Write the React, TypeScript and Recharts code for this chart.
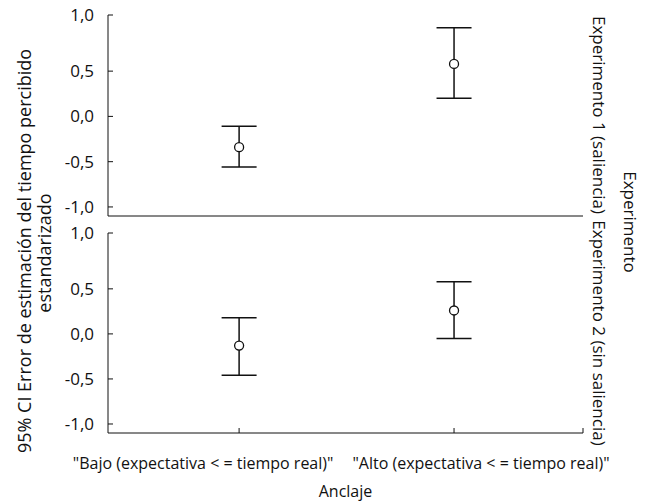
import React from "react";
import { ComposedChart, Scatter, ErrorBar, XAxis, YAxis } from "recharts";

// Anchor categories (x positions 1 and 2 on the numeric axis)
const categories = ['"Bajo (expectativa < = tiempo real)"', '"Alto (expectativa < = tiempo real)"'];

// Experiment 1 (saliencia): mean and 95% CI bounds
const exp1Mean = [-0.34, 0.58];
const exp1Lower = [-0.56, 0.2];
const exp1Upper = [-0.11, 0.98];

// Experiment 2 (sin saliencia)
const exp2Mean = [-0.13, 0.26];
const exp2Lower = [-0.46, -0.05];
const exp2Upper = [0.18, 0.58];

// SPSS puts the top "1,0" tick at the end of the axis
const yTicks = [-1, -0.5, 0, 0.5, 1.12];
const yTickLabels = ["-1,0", "-0,5", "0,0", "0,5", "1,0"];
const xTicks = [1, 2, 2.6];

const FONT = "'Open Sans', sans-serif";
const INK = "#111";
// the two long category labels get pushed apart so they don't overlap
const catShift = [-36, 27];

function rows(mean: number[], lower: number[], upper: number[]) {
  return mean.map((m, i) => ({ x: i + 1, y: m, err: [m - lower[i], upper[i] - m] }));
}

const fmtY = (v: number) => yTickLabels[yTicks.indexOf(v)] ?? "";

function Circle(props: any) {
  const { cx, cy } = props;
  return <circle cx={cx} cy={cy} r={4.5} fill="#fff" stroke={INK} strokeWidth={1.3} />;
}

function CatTick(props: any) {
  const { x, y, payload, index } = props;
  const label = categories[payload.value - 1];
  if (!label) return null;
  return (
    <text x={x + catShift[index]} y={y} dy="0.71em" textAnchor="middle" fill={INK} fontSize={16} fontFamily={FONT}>
      {label}
    </text>
  );
}

function Panel({ data, height, marginTop, xHeight, showLabels }: { data: any[]; height: number; marginTop: number; xHeight: number; showLabels: boolean }) {
  return (
    <ComposedChart width={646} height={height} data={data} margin={{ top: marginTop, right: 63, bottom: 0, left: 0 }}>
      <XAxis
        dataKey="x"
        type="number"
        domain={[0.39, 2.6]}
        ticks={xTicks}
        interval={0}
        allowDataOverflow
        height={xHeight}
        stroke={INK}
        tickSize={-5}
        tickMargin={30}
        tick={showLabels ? <CatTick /> : false}
        label={showLabels ? { value: "Anclaje", position: "insideBottom", offset: 6, fill: INK, fontSize: 16, fontFamily: FONT } : undefined}
      />
      <YAxis
        type="number"
        domain={[-1.1, 1.12]}
        ticks={yTicks}
        interval={0}
        allowDataOverflow
        width={108}
        stroke={INK}
        tickSize={-5}
        tickMargin={19}
        tick={{ fill: INK, fontSize: 17, fontFamily: FONT }}
        tickFormatter={fmtY}
      />
      <Scatter dataKey="y" shape={<Circle />} isAnimationActive={false}>
        <ErrorBar dataKey="err" direction="y" width={17.5} stroke={INK} strokeWidth={1.5} isAnimationActive={false} />
      </Scatter>
    </ComposedChart>
  );
}

export default function App() {
  const txt = { fill: INK, fontFamily: FONT, textAnchor: "middle" as const, dominantBaseline: "central" as const };
  return (
    <div style={{ position: "absolute", left: 0, top: 0, width: 646, height: 503, background: "#fff" }}>
      <div style={{ position: "absolute", left: 0, top: 0 }}>
        <Panel data={rows(exp1Mean, exp1Lower, exp1Upper)} height={230} marginTop={15} xHeight={14} showLabels={false} />
      </div>
      <div style={{ position: "absolute", left: 0, top: 210 }}>
        <Panel data={rows(exp2Mean, exp2Lower, exp2Upper)} height={293} marginTop={23} xHeight={70} showLabels={true} />
      </div>
      <svg width={646} height={503} style={{ position: "absolute", left: 0, top: 0, pointerEvents: "none" }}>
        <text {...txt} fontSize={18} transform="translate(24,251) rotate(-90)">95% CI Error de estimación del tiempo percibido</text>
        <text {...txt} fontSize={18} transform="translate(44,253) rotate(-90)">estandarizado</text>
        <text {...txt} fontSize={17} transform="translate(599,115) rotate(90)">Experimento 1 (saliencia)</text>
        <text {...txt} fontSize={17} transform="translate(599,333) rotate(90)">Experimento 2 (sin saliencia)</text>
        <text {...txt} fontSize={17} transform="translate(630,222) rotate(90)">Experimento</text>
      </svg>
    </div>
  );
}
